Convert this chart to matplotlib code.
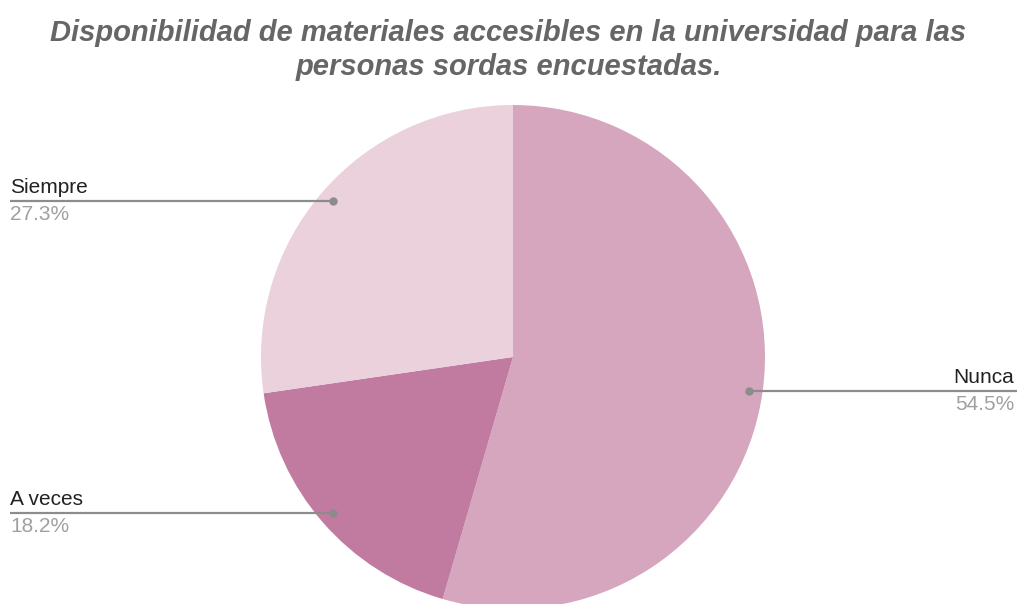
import numpy as np
import matplotlib.pyplot as plt
from matplotlib import font_manager

categories = ['Nunca', 'A veces', 'Siempre']
values = [54.5, 18.2, 27.3]
colors = ['#d5a6bd', '#c27ba0', '#ead1dc']
title = 'Disponibilidad de materiales accesibles en la universidad para las\npersonas sordas encuestadas.'

W, H = 1017, 604
fig = plt.figure(figsize=(W / 100, H / 100), dpi=100)
ax = fig.add_axes([0, 0, 1, 1])

cx, cy, R = 513, H - 357, 252
wedges, _ = ax.pie(values, colors=colors, startangle=90, counterclock=False,
                   center=(cx, cy), radius=R, frame=True,
                   wedgeprops=dict(linewidth=0))
ax.set_xlim(0, W)
ax.set_ylim(0, H)
ax.axis('off')

names = [f.name for f in font_manager.fontManager.ttflist]
narrow = 'Liberation Sans Narrow' if 'Liberation Sans Narrow' in names else 'Liberation Sans'

for w, name, v in zip(wedges, categories, values):
    ang = np.deg2rad((w.theta1 + w.theta2) / 2)
    px = cx + 0.945 * R * np.cos(ang)
    py = cy + 0.945 * R * np.sin(ang)
    if np.cos(ang) >= 0:
        x_end, tx, ha = W, W - 3, 'right'
    else:
        x_end, tx, ha = 10, 10, 'left'
    ax.plot([px, x_end], [py, py], color='#8c8c8c', lw=1.6, solid_capstyle='butt')
    ax.plot(px, py, 'o', color='#8c8c8c', ms=5)
    ax.text(tx, py + 4, name, ha=ha, va='bottom', fontsize=15,
            family='Liberation Sans', color='#222222')
    ax.text(tx, py - 4, f'{v}%', ha=ha, va='top', fontsize=15,
            family='Liberation Sans', color='#a0a0a0')

fsize = 21 if narrow == 'Liberation Sans' else 25
fig.text(0.5, 1 - 50 / H, title, ha='center', va='center', fontsize=fsize,
         family=narrow, weight='bold', style='italic', color='#666666',
         linespacing=1.3)

fig.savefig('out.png', dpi=100, facecolor='white')
